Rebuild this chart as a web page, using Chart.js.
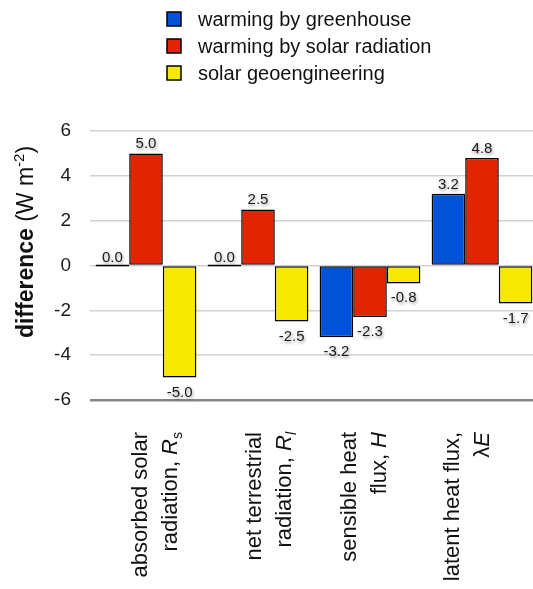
<!DOCTYPE html>
<html>
<head>
<meta charset="utf-8">
<script src="https://cdn.jsdelivr.net/npm/chart.js@4.4.1/dist/chart.umd.min.js"></script>
<style>
  html, body { margin: 0; padding: 0; background: #fff; overflow: hidden; }
  #wrap { position: relative; width: 538px; height: 589px; }
</style>
</head>
<body>
<div id="wrap"><canvas id="fluxChart"></canvas></div>
<script>
// categories (each label is a list of lines, each line a list of text pieces)
const categories = [
    [[{ t: 'absorbed solar' }], [{ t: 'radiation, ' }, { t: 'R', i: true }, { t: 's', sub: true }]],
    [[{ t: 'net terrestrial' }], [{ t: 'radiation, ' }, { t: 'R', i: true }, { t: 'l', sub: true, i: true }]],
    [[{ t: 'sensible heat' }], [{ t: 'flux, ' }, { t: 'H', i: true }]],
    [[{ t: 'latent heat flux,' }], [{ t: 'λ' }, { t: 'E', i: true }]]
];
const seriesNames = ['warming by greenhouse', 'warming by solar radiation', 'solar geoengineering'];
const greenhouse = [0.0, 0.0, -3.2, 3.2];
const solarRadiation = [5.0, 2.5, -2.3, 4.8];
const geoengineering = [-5.0, -2.5, -0.8, -1.7];
const yTicks = [-6, -4, -2, 0, 2, 4, 6];

const colors = ['rgb(0, 82, 214)', 'rgb(226, 36, 0)', 'rgb(245, 233, 0)'];
const FONT = '"Liberation Sans", Arial, Helvetica, sans-serif';
const labelShift = [1, 3, -14, -23]; // desplazamiento horizontal de cada etiqueta rotada

function drawPieces(ctx, pieces, baseSize, alignRight) {
    // mide y dibuja trozos de texto con estilos mixtos
    const fontFor = p => (p.b ? 'bold ' : '') + (p.i ? 'italic ' : '') + (p.sub || p.sup ? Math.round(baseSize * 0.65) : baseSize) + 'px ' + FONT;
    let total = 0;
    pieces.forEach(p => { ctx.font = fontFor(p); total += ctx.measureText(p.t).width; });
    let x = alignRight ? -total : -total / 2;
    pieces.forEach(p => {
        ctx.font = fontFor(p);
        let dy = 0;
        if (p.sub) dy = baseSize * 0.22;
        if (p.sup) dy = -baseSize * 0.38;
        ctx.fillText(p.t, x, dy);
        x += ctx.measureText(p.t).width;
    });
}

const decorations = {
    id: 'decorations',
    afterDatasetsDraw(chart) {
        const ctx = chart.ctx;
        // valores sobre / bajo las barras, con sombra
        ctx.save();
        ctx.font = '15px ' + FONT;
        ctx.textAlign = 'center';
        ctx.textBaseline = 'alphabetic';
        ctx.fillStyle = '#1a1a1a';
        ctx.shadowColor = 'rgba(0,0,0,0.4)';
        ctx.shadowBlur = 3;
        ctx.shadowOffsetX = 1;
        ctx.shadowOffsetY = 2;
        chart.data.datasets.forEach((ds, di) => {
            chart.getDatasetMeta(di).data.forEach((bar, i) => {
                const v = ds.data[i];
                const y = v >= 0 ? bar.y - 5 : bar.y + 19;
                ctx.fillText(v.toFixed(1), bar.x, y);
            });
        });
        ctx.restore();
    },
    afterDraw(chart) {
        const ctx = chart.ctx;
        const xs = chart.scales.x;
        // leyenda vertical
        ctx.save();
        chart.data.datasets.forEach((ds, di) => {
            const cy = 19 + di * 27;
            ctx.fillStyle = ds.backgroundColor;
            ctx.fillRect(167, cy - 7, 14, 14);
            ctx.strokeStyle = '#000';
            ctx.lineWidth = 1.5;
            ctx.strokeRect(167, cy - 7, 14, 14);
            ctx.fillStyle = '#111';
            ctx.font = '20px ' + FONT;
            ctx.textAlign = 'left';
            ctx.textBaseline = 'middle';
            ctx.fillText(ds.label, 198, cy + 1);
        });
        ctx.restore();

        // etiquetas de categorias rotadas
        ctx.save();
        ctx.fillStyle = '#111';
        ctx.textBaseline = 'alphabetic';
        ctx.textAlign = 'left';
        categories.forEach((lines, i) => {
            const cx = xs.getPixelForValue(i) + labelShift[i];
            lines.forEach((line, li) => {
                ctx.save();
                ctx.translate(cx + li * 30, 432);
                ctx.rotate(-Math.PI / 2);
                drawPieces(ctx, line, 22, true);
                ctx.restore();
            });
        });
        ctx.restore();

        // titulo del eje y
        ctx.save();
        ctx.fillStyle = '#111';
        ctx.textBaseline = 'alphabetic';
        ctx.textAlign = 'left';
        ctx.translate(33, 242);
        ctx.rotate(-Math.PI / 2);
        drawPieces(ctx, [
            { t: 'difference', b: true },
            { t: ' (W m' },
            { t: '-2', sup: true },
            { t: ')' }
        ], 23, false);
        ctx.restore();
    }
};

const ctx = document.getElementById('fluxChart').getContext('2d');
new Chart(ctx, {
    type: 'bar',
    data: {
        labels: categories.map(c => c.map(l => l.map(p => p.t).join(''))),
        datasets: [greenhouse, solarRadiation, geoengineering].map((d, k) => ({
            label: seriesNames[k],
            data: d,
            backgroundColor: colors[k],
            borderColor: '#000',
            borderWidth: 1.5,
            borderSkipped: false,
            minBarLength: 2
        }))
    },
    options: {
        responsive: true,
        maintainAspectRatio: false,
        animation: false,
        layout: { padding: { top: 131, right: 0, left: 0, bottom: 0 } },
        datasets: { bar: { categoryPercentage: 0.9, barPercentage: 1.0 } },
        plugins: {
            legend: { display: false },
            tooltip: { enabled: false }
        },
        scales: {
            x: {
                grid: { display: false },
                border: { display: false },
                ticks: { display: false },
                afterFit(scale) { scale.height = 189; }
            },
            y: {
                min: -6,
                max: 6,
                afterBuildTicks(scale) { scale.ticks = yTicks.map(v => ({ value: v })); },
                afterFit(scale) { scale.width = 90; },
                border: { display: false },
                grid: {
                    drawTicks: false,
                    color: c => (c.tick && c.tick.value === -6 ? '#858585' : '#d2d2d2'),
                    lineWidth: c => (c.tick && c.tick.value === -6 ? 2.5 : 1.5)
                },
                ticks: {
                    padding: 19,
                    color: '#1a1a1a',
                    font: { family: FONT, size: 19 }
                }
            }
        }
    },
    plugins: [decorations]
});
</script>
</body>
</html>
